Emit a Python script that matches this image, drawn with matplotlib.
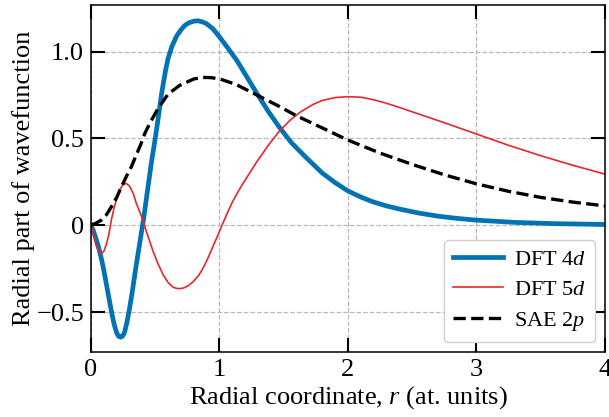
import numpy as np
import matplotlib
matplotlib.use("Agg")
import matplotlib.pyplot as plt
from matplotlib.ticker import FuncFormatter

# values
r_4d = [0, 0.02, 0.04, 0.06, 0.08, 0.1, 0.12, 0.14, 0.16, 0.18, 0.2, 0.215, 0.23, 0.245,
        0.26, 0.28, 0.3, 0.32, 0.35, 0.38, 0.41, 0.44, 0.47, 0.5, 0.52, 0.55, 0.58, 0.6,
        0.63, 0.667, 0.7, 0.73, 0.76, 0.8, 0.835, 0.87, 0.9, 0.95, 0.99, 1.05, 1.134,
        1.2, 1.29, 1.38, 1.47, 1.56, 1.66, 1.73, 1.8, 1.9, 2.0, 2.1, 2.2, 2.3, 2.4, 2.55,
        2.7, 2.85, 3.0, 3.3, 3.6, 4.0]
psi_4d = [0, -0.035, -0.08, -0.13, -0.19, -0.26, -0.34, -0.42, -0.5, -0.57, -0.62, -0.64,
          -0.645, -0.64, -0.62, -0.56, -0.48, -0.39, -0.24, -0.1, 0.04, 0.2, 0.36, 0.5,
          0.6, 0.76, 0.89, 0.96, 1.03, 1.09, 1.125, 1.15, 1.165, 1.175, 1.177, 1.17,
          1.16, 1.13, 1.094, 1.035, 0.95, 0.87, 0.76, 0.655, 0.56, 0.475, 0.40, 0.35,
          0.30, 0.245, 0.197, 0.162, 0.133, 0.111, 0.093, 0.07, 0.052, 0.039, 0.029,
          0.016, 0.009, 0.004]

r_5d = [0, 0.02, 0.04, 0.06, 0.083, 0.1, 0.12, 0.14, 0.158, 0.18, 0.197, 0.22, 0.25, 0.275,
        0.3, 0.33, 0.353, 0.38, 0.405, 0.43, 0.46, 0.485, 0.52, 0.563, 0.6, 0.64, 0.68,
        0.72, 0.76, 0.8, 0.84, 0.874, 0.91, 0.94, 0.98, 1.02, 1.06, 1.1, 1.15, 1.2, 1.29,
        1.38, 1.47, 1.55, 1.63, 1.73, 1.8, 1.9, 2.0, 2.1, 2.2, 2.3, 2.4, 2.5, 2.75, 3.0,
        3.25, 3.5, 3.75, 4.0]
psi_5d = [0, -0.06, -0.115, -0.15, -0.163, -0.15, -0.11, -0.05, 0.029, 0.1, 0.144, 0.2,
          0.235, 0.24, 0.225, 0.18, 0.125, 0.075, 0.029, -0.035, -0.1, -0.154, -0.22,
          -0.288, -0.33, -0.358, -0.366, -0.362, -0.347, -0.322, -0.287, -0.245, -0.19,
          -0.138, -0.07, 0.0, 0.068, 0.133, 0.2, 0.26, 0.365, 0.46, 0.545, 0.605, 0.652,
          0.696, 0.718, 0.735, 0.74, 0.737, 0.722, 0.702, 0.678, 0.653, 0.59, 0.525,
          0.46, 0.40, 0.345, 0.294]

r_2p = [0, 0.04, 0.08, 0.12, 0.158, 0.2, 0.236, 0.275, 0.314, 0.35, 0.39, 0.42, 0.457,
        0.52, 0.6, 0.69, 0.8, 0.87, 0.93, 1.0, 1.13, 1.29, 1.45, 1.6, 1.8, 2.0, 2.25,
        2.5, 2.75, 3.0, 3.25, 3.5, 3.75, 4.0]
psi_2p = [0, 0.012, 0.029, 0.06, 0.105, 0.16, 0.22, 0.28, 0.336, 0.4, 0.47, 0.53, 0.586,
          0.67, 0.755, 0.805, 0.842, 0.851, 0.85, 0.843, 0.81, 0.75, 0.69, 0.63, 0.56,
          0.49, 0.415, 0.35, 0.29, 0.238, 0.195, 0.16, 0.133, 0.111]

plt.rcParams["font.family"] = "Liberation Serif"
plt.rcParams["mathtext.fontset"] = "custom"
plt.rcParams["mathtext.rm"] = "Liberation Serif"
plt.rcParams["mathtext.it"] = "Liberation Serif:italic"

fig = plt.figure(figsize=(6.09, 4.17), dpi=100)
ax = fig.add_axes([0.1494, 0.156, 0.844, 0.832])

ax.plot(r_4d, psi_4d, color="#0173b2", lw=3.4, label="DFT 4$d$")
ax.plot(r_5d, psi_5d, color="#e8262b", lw=1.2, label="DFT 5$d$")
ax.plot(r_2p, psi_2p, color="black", lw=2.4, ls="--", label="SAE 2$p$")

ax.set_xlim(0, 4)
ax.set_ylim(-0.73, 1.268)
ax.set_xticks([0, 1, 2, 3, 4])
ax.set_yticks([-0.5, 0, 0.5, 1.0])
ax.yaxis.set_major_formatter(FuncFormatter(
    lambda v, p: "0" if abs(v) < 1e-9 else f"{v:.1f}".replace("-", "\u2212")))

ax.tick_params(direction="in", length=10, width=1.5, top=True, right=True,
               labelsize=19, pad=5)
for s in ax.spines.values():
    s.set_linewidth(1.1)
ax.grid(True, ls="--", color="#b8b8b8", lw=0.9)

ax.set_xlabel("Radial coordinate, $r$ (at. units)", fontsize=19, labelpad=2)
ax.set_ylabel("Radial part of wavefunction", fontsize=19, labelpad=1)

leg = ax.legend(loc="lower right", fontsize=16, handlelength=2.25, handletextpad=0.5,
                labelspacing=0.45, framealpha=1, edgecolor="#d0d0d0",
                borderaxespad=0.45)
leg.get_frame().set_linewidth(1.0)

fig.savefig("out.png", dpi=100)
